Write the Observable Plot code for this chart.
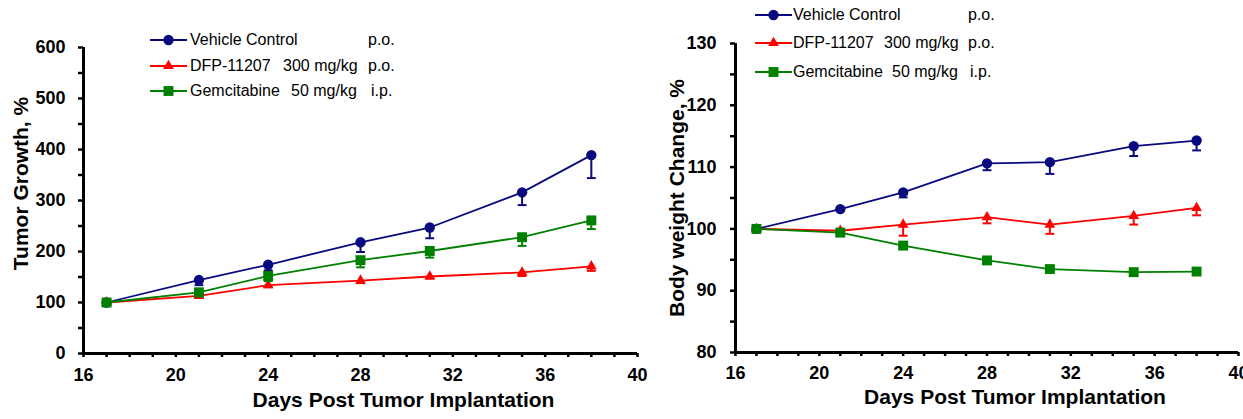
<!DOCTYPE html>
<html><head><meta charset="utf-8">
<script src="https://cdn.jsdelivr.net/npm/d3@7"></script>
<script src="https://cdn.jsdelivr.net/npm/@observablehq/plot@0.6"></script>
<style>
body{margin:0;background:#fff;width:1243px;height:419px;overflow:hidden;position:relative;font-family:"Liberation Sans",Arial,sans-serif;}
.panel{position:absolute;top:0;}
.row{position:absolute;height:20px;font-size:16px;color:#000;}
.row span{position:absolute;white-space:nowrap;top:0;line-height:20px;}
.row svg{position:absolute;top:0;left:0;}
</style></head><body>
<div id="left" class="panel" style="left:0"></div>
<div id="right" class="panel" style="left:640px"></div>
<script>
// ---- data ----
const days = [17, 21, 24, 28, 31, 35, 38];
const seriesNames = ["Vehicle Control", "DFP-11207", "Gemcitabine"];
const doses = ["", "300 mg/kg", "50 mg/kg"];
const routes = ["p.o.", "p.o.", "i.p."];
const colors = ["#0a0a80", "#ff0000", "#008000"];
const symbols = ["circle", "triangle", "square"];
const symbolR = [5.2, 4.0, 5.6];

const tumorVehicle    = [100, 144, 174, 218, 247, 316, 389];
const tumorVehicleErr = [0, 10, 11, 19, 21, 25, 45];
const tumorDFP        = [100, 113, 134, 143, 151, 159, 171];
const tumorDFPErr     = [0, 4, 4, 5, 4, 7, 9];
const tumorGem        = [100, 120, 152, 183, 201, 228, 261];
const tumorGemErr     = [0, 8, 10, 14, 13, 17, 17];

const bwVehicle    = [100, 103.2, 105.9, 110.6, 110.8, 113.4, 114.3];
const bwVehicleErr = [0, 0.3, 0.8, 1.1, 1.9, 1.6, 1.6];
const bwDFP        = [100, 99.7, 100.7, 101.9, 100.7, 102.1, 103.4];
const bwDFPErr     = [0, 0.3, 1.8, 1.0, 1.5, 1.4, 1.2];
const bwGem        = [100, 99.4, 97.3, 94.9, 93.5, 93.0, 93.1];
const bwGemErr     = [0, 0.5, 0.5, 0.5, 0.4, 0.4, 0.4];

const xTicks = [16, 20, 24, 28, 32, 36, 40];
const tumorTicks = [0, 100, 200, 300, 400, 500, 600];
const bwTicks = [80, 90, 100, 110, 120, 130];

const xTitle = "Days Post Tumor Implantation";
const tumorTitle = "Tumor Growth, %";
const bwTitle = "Body weight Change, %";

// ---- helpers ----
const capSymbol = {draw(ctx, size) { const w = Math.sqrt(size) / 2; ctx.moveTo(-w, 0); ctx.lineTo(w, 0); }};

function buildRows(vals, errs) {
  const rows = [];
  vals.forEach((v, i) => days.forEach((d, j) => rows.push({s: i, day: d, value: v[j], low: v[j] - errs[i][j], err: errs[i][j]})));
  return rows;
}

function panel(o) {
  const rows = buildRows(o.vals, o.errs);
  const yMinor = d3.range(o.yTicks[0], o.yTicks[o.yTicks.length - 1] + 1e-9, (o.yTicks[1] - o.yTicks[0]) / 2);
  const xMinor = d3.range(xTicks[0], xTicks[xTicks.length - 1] + 1);
  const marks = [
    Plot.axisY({ticks: yMinor, tickFormat: d => o.yTicks.includes(d) ? d : "", tickSize: 5, tickPadding: o.yPad,
      fontSize: 18, fontWeight: "bold", strokeWidth: 2.5, label: null}),
    Plot.axisX({ticks: xMinor, tickFormat: d => xTicks.includes(d) ? d : "", tickSize: 4, tickPadding: o.xPad,
      fontSize: 18, fontWeight: "bold", strokeWidth: 2.5, label: null}),
    Plot.ruleX([xTicks[0]], {strokeWidth: 3, stroke: "black"}),
    Plot.ruleY([o.yTicks[0]], {strokeWidth: 3, stroke: "black"}),
    Plot.text([o.yTitle], {frameAnchor: "left", textAnchor: "middle", lineAnchor: "middle", rotate: -90,
      dx: o.yTitleDx, dy: o.yTitleDy, text: d => d, fontSize: 21, fontWeight: "bold", fill: "black"}),
    Plot.text([xTitle], {frameAnchor: "bottom", textAnchor: "middle", lineAnchor: "middle",
      dx: o.xTitleDx, dy: o.xTitleDy, text: d => d, fontSize: 21, fontWeight: "bold", fill: "black"})
  ];
  seriesNames.forEach((name, i) => {
    const data = rows.filter(r => r.s === i);
    const errData = data.filter(r => r.err > 0);
    marks.push(
      Plot.line(data, {x: "day", y: "value", stroke: colors[i], strokeWidth: 1.8}),
      Plot.ruleX(errData, {x: "day", y1: "low", y2: "value", stroke: colors[i], strokeWidth: 2}),
      Plot.dot(errData, {x: "day", y: "low", symbol: capSymbol, r: 5, stroke: colors[i], strokeWidth: 2, fill: "none"}),
      Plot.dot(data, {x: "day", y: "value", symbol: symbols[i], r: symbolR[i], fill: colors[i], stroke: "none"})
    );
  });
  const chart = Plot.plot({
    width: o.width, height: 419,
    marginLeft: o.ml, marginRight: o.mr, marginTop: o.mt, marginBottom: o.mb,
    x: {domain: [xTicks[0], xTicks[xTicks.length - 1]]},
    y: {domain: [o.yTicks[0], o.yTicks[o.yTicks.length - 1]]},
    style: {fontFamily: "'Liberation Sans', Arial, sans-serif", color: "black", background: "transparent", overflow: "visible"},
    marks
  });
  document.getElementById(o.el).appendChild(chart);
}

function legend(o) {
  seriesNames.forEach((name, i) => {
    const row = document.createElement("div");
    row.className = "row";
    row.style.left = o.lineX + "px";
    row.style.top = (o.rowY[i] - 10) + "px";
    const w = o.lineW;
    const size = Math.PI * symbolR[i] * symbolR[i];
    const sym = i === 0 ? d3.symbolCircle : i === 1 ? d3.symbolTriangle : d3.symbolSquare;
    const path = d3.symbol(sym, size)();
    row.innerHTML = `<svg width="${w}" height="20"><line x1="0" x2="${w}" y1="10" y2="10" stroke="${colors[i]}" stroke-width="1.8"/>` +
      `<path d="${path}" transform="translate(${w / 2},10)" fill="${colors[i]}"/></svg>` +
      `<span style="left:${o.textX - o.lineX}px">${name}</span>` +
      (doses[i] ? `<span style="left:${o.doseX[i] - o.lineX}px">${doses[i]}</span>` : "") +
      `<span style="left:${o.routeX[i] - o.lineX}px">${routes[i]}</span>`;
    document.body.appendChild(row);
  });
}

panel({el: "left", width: 640, ml: 83, mr: 3, mt: 47, mb: 66,
  vals: [tumorVehicle, tumorDFP, tumorGem], errs: [tumorVehicleErr, tumorDFPErr, tumorGemErr],
  yTicks: tumorTicks, yPad: 13, xPad: 11, yTitle: tumorTitle, yTitleDx: -62, yTitleDy: -17, xTitleDx: 43, xTitleDy: 47});

panel({el: "right", width: 603, ml: 95, mr: 5, mt: 43, mb: 67,
  vals: [bwVehicle, bwDFP, bwGem], errs: [bwVehicleErr, bwDFPErr, bwGemErr],
  yTicks: bwTicks, yPad: 14, xPad: 10, yTitle: bwTitle, yTitleDx: -58, yTitleDy: 0, xTitleDx: 28, xTitleDy: 45});

legend({lineX: 150, lineW: 37, textX: 190, doseX: [0, 283, 291], routeX: [368, 368, 371], rowY: [40, 66, 91]});
legend({lineX: 755, lineW: 37, textX: 793, doseX: [0, 884, 892], routeX: [968, 968, 970], rowY: [15, 43, 72]});
</script>
</body></html>
